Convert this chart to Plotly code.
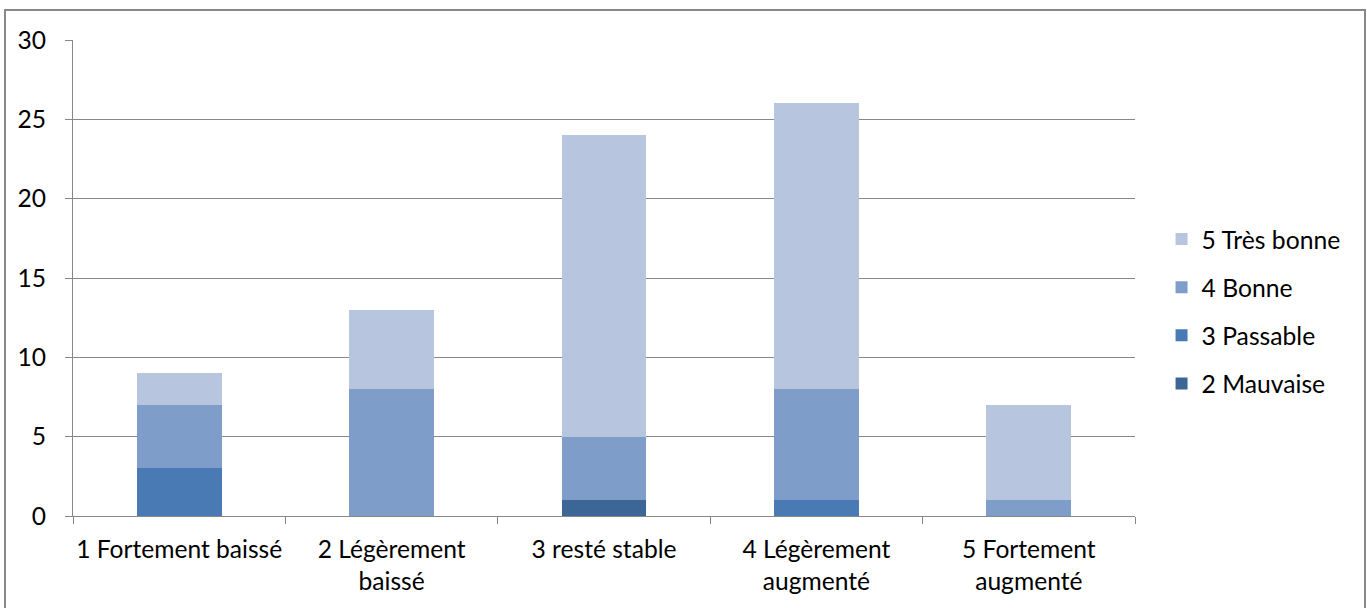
import plotly.graph_objects as go

categories = ["1 Fortement baissé", "2 Légèrement<br>baissé", "3 resté stable",
              "4 Légèrement<br>augmenté", "5 Fortement<br>augmenté"]
series_names = ["2 Mauvaise", "3 Passable", "4 Bonne", "5 Très bonne"]
mauvaise = [0, 0, 1, 0, 0]
passable = [3, 0, 0, 1, 0]
bonne = [4, 8, 4, 7, 1]
tres_bonne = [2, 5, 19, 18, 6]
colors = ["#3b6695", "#4a7ab4", "#7f9dc9", "#b7c5df"]
y_ticks = [0, 5, 10, 15, 20, 25, 30]

W, H = 1367, 608
L, R, T, B = 73, 1135, 40, 516

fig = go.Figure()
n = len(series_names)
for i, (name, vals, col) in enumerate(zip(series_names, [mauvaise, passable, bonne, tres_bonne], colors)):
    fig.add_trace(go.Bar(x=categories, y=vals, name=name, marker_color=col,
                         marker_line_width=0, legendgroup=name, legendrank=n - i))

font = dict(family="Lato, Open Sans, sans-serif", size=24.6, color="#000000")
fig.update_layout(
    width=W, height=H, barmode="stack", bargap=0.6,
    paper_bgcolor="white", plot_bgcolor="white",
    margin=dict(l=L, r=W - R, t=T, b=H - B, pad=0, autoexpand=False),
    font=font,
    legend=dict(traceorder="grouped", x=1.025, y=(B - 311.5) / (B - T),
                xanchor="left", yanchor="middle",
                font=dict(size=24.7), itemsizing="constant", tracegroupgap=13,
                itemwidth=30),
    showlegend=True,
)
fig.update_yaxes(range=[0, 30], tickvals=y_ticks, showgrid=True, gridcolor="#888888",
                 gridwidth=1, showline=True, linecolor="#888888", linewidth=1,
                 ticks="outside", ticklen=7, tickcolor="#888888", zeroline=False,
                 ticklabelstandoff=14, automargin=False)
fig.update_xaxes(showline=True, linecolor="#888888", linewidth=1, ticks="outside",
                 tickson="boundaries", ticklen=7, tickcolor="#888888",
                 showgrid=False, ticklabelstandoff=11, tickangle=0, automargin=False)
fig.add_shape(type="rect", xref="paper", yref="paper",
              x0=(5 - L) / (R - L), x1=(1365 - L) / (R - L),
              y0=(B - 620) / (B - T), y1=(B - 10) / (B - T),
              line=dict(color="#888888", width=2), fillcolor="rgba(0,0,0,0)",
              layer="below")
fig.write_html("out.html", config={"displayModeBar": False},
               post_script="document.body.style.margin='0';document.body.style.overflow='hidden';")
